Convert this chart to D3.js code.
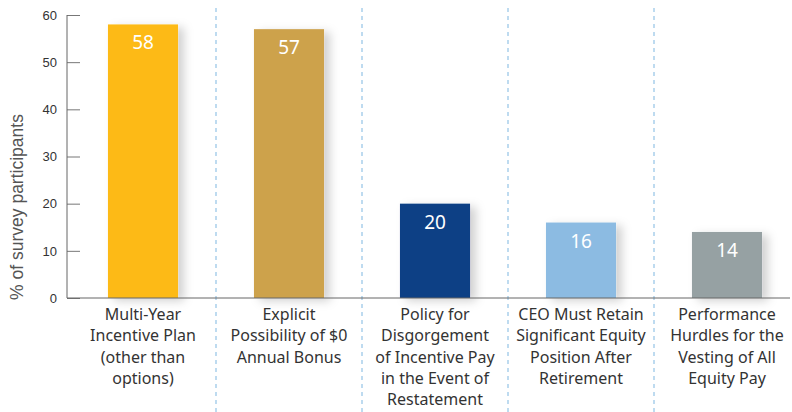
<!DOCTYPE html>
<html><head><meta charset="utf-8">
<script src="https://cdn.jsdelivr.net/npm/d3@7"></script>
<style>body{margin:0;background:#fff}svg{display:block}</style>
</head><body>
<script>
const categories = [
  ["Multi-Year","Incentive Plan","(other than","options)"],
  ["Explicit","Possibility of $0","Annual Bonus"],
  ["Policy for","Disgorgement","of Incentive Pay","in the Event of","Restatement"],
  ["CEO Must Retain","Significant Equity","Position After","Retirement"],
  ["Performance","Hurdles for the","Vesting of All","Equity Pay"]
];
const values = [58, 57, 20, 16, 14];
const colors = ["#FDBA12", "#CDA24C", "#0B4085", "#8CBBE2", "#96A1A3"];
const yTicks = [0, 10, 20, 30, 40, 50, 60];
const yLabel = "% of survey participants";

const W = 792, H = 412;
const svg = d3.select("body").append("svg").attr("width", W).attr("height", H);
const defs = svg.append("defs");
const f = defs.append("filter").attr("id","sh").attr("x","-20%").attr("y","-10%").attr("width","160%").attr("height","130%");
f.append("feDropShadow").attr("dx",6).attr("dy",3).attr("stdDeviation",5).attr("flood-color","#000").attr("flood-opacity",0.18);

const x = d3.scaleBand().domain(d3.range(values.length)).range([70, 800]).paddingInner(0.52).paddingOuter(0.26);
const y = d3.scaleLinear().domain([0, 60]).range([298, 15]);

// separators
const step = x.step();
for (let i = 1; i < values.length; i++) {
  const sx = x(i) - (step - x.bandwidth())/2;
  svg.append("line").attr("x1", sx).attr("x2", sx).attr("y1", 8).attr("y2", H)
    .attr("stroke", "#9CC8E8").attr("stroke-width", 1.3).attr("stroke-dasharray", "4,4");
}

// bars
svg.selectAll("rect.bar").data(values).join("rect").attr("class","bar")
  .attr("x", (d,i) => x(i)).attr("width", x.bandwidth())
  .attr("y", d => y(d)).attr("height", d => y(0) - y(d))
  .attr("fill", (d,i) => colors[i]).attr("filter","url(#sh)");

// value labels
svg.selectAll("text.val").data(values).join("text").attr("class","val")
  .attr("x", (d,i) => x(i) + x.bandwidth()/2).attr("y", d => y(d) + 25)
  .attr("text-anchor","middle").attr("fill","#fff")
  .attr("font-family","'Noto Sans', Roboto, sans-serif").attr("font-size", 19).text(d => d);

// axes
const yAxis = d3.axisRight(y).tickValues(yTicks).tickSize(13).tickFormat(d3.format("d"));
const ga = svg.append("g").attr("transform","translate(67,0)").call(yAxis);
ga.select(".domain").remove();
ga.selectAll(".tick line").attr("stroke","#777");
ga.selectAll(".tick text").attr("x",-10).attr("text-anchor","end").attr("fill","#333")
  .attr("font-family","'Liberation Sans', Arial, sans-serif").attr("font-size",13);
svg.append("line").attr("x1",67).attr("x2",67).attr("y1",y(60)).attr("y2",y(0)).attr("stroke","#666").attr("stroke-width",1);
svg.append("line").attr("x1",67).attr("x2",790).attr("y1",y(0)).attr("y2",y(0)).attr("stroke","#666").attr("stroke-width",1);

// y label
svg.append("text").attr("transform","translate(23,207) rotate(-90)").attr("text-anchor","middle")
  .attr("fill","#555").attr("font-family","'Liberation Sans', Arial, sans-serif").attr("font-size",17.5).text(yLabel);

// category labels
categories.forEach((lines, i) => {
  const t = svg.append("text").attr("text-anchor","middle").attr("fill","#333")
    .attr("font-family","'Noto Sans', Roboto, sans-serif").attr("font-size",16);
  lines.forEach((l, j) => {
    t.append("tspan").attr("x", x(i) + x.bandwidth()/2).attr("y", 320 + j*21.3).text(l);
  });
});
</script>
</body></html>
